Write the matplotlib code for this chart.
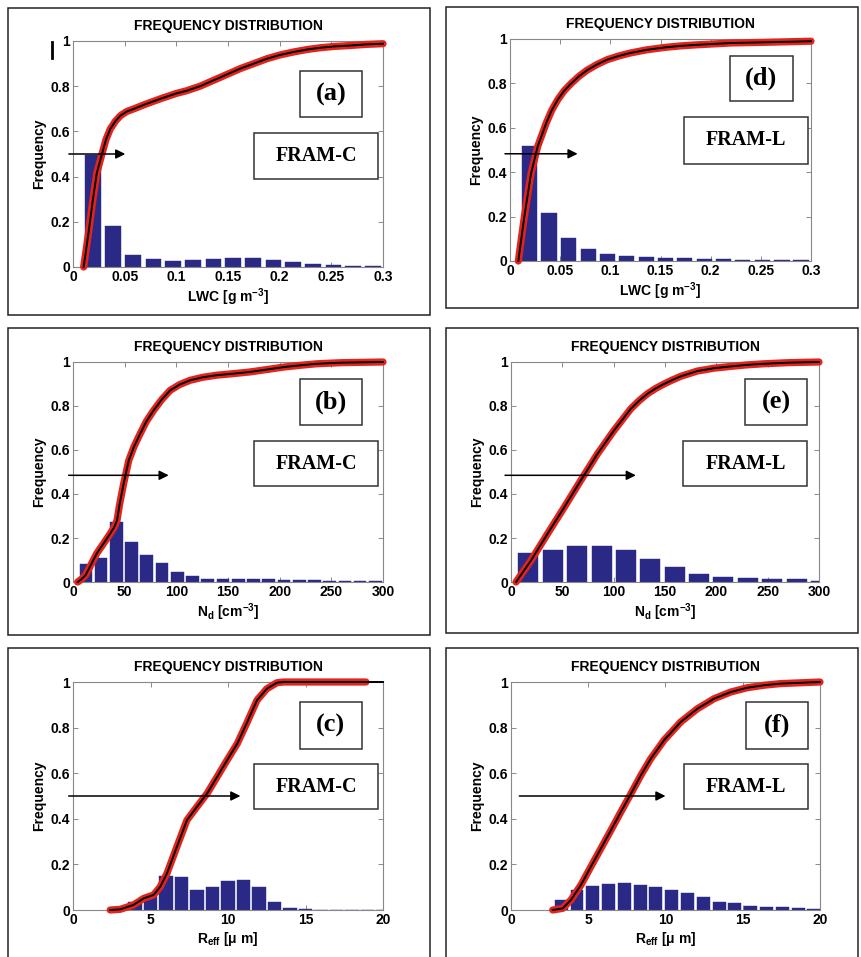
import numpy as np
import matplotlib
matplotlib.use('Agg')
import matplotlib.pyplot as plt
from matplotlib.patches import Rectangle
from matplotlib.lines import Line2D

plt.rcParams['font.family'] = ['Liberation Sans', 'DejaVu Sans']
plt.rcParams['mathtext.fontset'] = 'custom'
plt.rcParams['mathtext.rm'] = 'Liberation Sans:bold'
plt.rcParams['mathtext.it'] = 'Liberation Sans:bold'

# --- data ---
# (a) LWC, FRAM-C
lwc_c_bins = [0.0197, 0.039, 0.058, 0.078, 0.097, 0.116, 0.136, 0.155,
              0.174, 0.194, 0.213, 0.232, 0.252, 0.271, 0.290]
lwc_c_freq = [0.496, 0.18, 0.051, 0.035, 0.028, 0.029, 0.035, 0.04,
              0.04, 0.031, 0.021, 0.013, 0.009, 0.006, 0.005]
lwc_c_cdf_x = [0.0103, 0.015, 0.019, 0.023, 0.028, 0.032, 0.036, 0.041, 0.046, 0.052,
               0.059, 0.07, 0.085, 0.1, 0.11, 0.123, 0.136, 0.149, 0.162, 0.175, 0.188,
               0.2, 0.213, 0.226, 0.239, 0.253, 0.268, 0.284, 0.3]
lwc_c_cdf_y = [0.0, 0.15, 0.29, 0.415, 0.50, 0.565, 0.61, 0.645, 0.67, 0.688,
               0.70, 0.72, 0.745, 0.768, 0.78, 0.8, 0.826, 0.852, 0.878, 0.9, 0.922,
               0.938, 0.951, 0.962, 0.97, 0.976, 0.98, 0.985, 0.988]

# (d) LWC, FRAM-L
lwc_l_bins = lwc_c_bins
lwc_l_freq = [0.52, 0.218, 0.102, 0.056, 0.033, 0.024, 0.018, 0.015,
              0.012, 0.009, 0.0075, 0.006, 0.0045, 0.003, 0.003]
lwc_l_cdf_x = [0.0083, 0.0143, 0.021, 0.0276, 0.036, 0.0415, 0.0475, 0.054, 0.061,
               0.069, 0.077, 0.087, 0.097, 0.108, 0.12, 0.136, 0.154, 0.17, 0.187,
               0.22, 0.253, 0.3]
lwc_l_cdf_y = [0.0, 0.2, 0.395, 0.516, 0.62, 0.678, 0.726, 0.767, 0.80,
               0.833, 0.86, 0.886, 0.907, 0.923, 0.937, 0.951, 0.962, 0.969, 0.974,
               0.982, 0.985, 0.99]

# (b) Nd, FRAM-C
nd_c_bins = [12.4, 27.1, 41.9, 56.6, 71.4, 86.1, 100.9, 115.6, 130.4, 145.1,
             159.9, 174.6, 189.4, 204.1, 218.9, 233.6, 248.4, 263.1, 277.9, 292.6]
nd_c_freq = [0.083, 0.11, 0.273, 0.182, 0.121, 0.086, 0.045, 0.027, 0.015, 0.012,
             0.012, 0.013, 0.012, 0.011, 0.009, 0.008, 0.006, 0.005, 0.005, 0.003]
nd_c_cdf_x = [4.5, 8, 12, 17, 23, 30, 36, 40, 42.6, 45, 49, 54, 59, 65, 71, 78, 86,
              94, 103, 113.5, 125, 139, 155, 171.6, 188, 204, 220, 236, 260, 300]
nd_c_cdf_y = [0.0, 0.012, 0.03, 0.075, 0.13, 0.178, 0.22, 0.25, 0.28, 0.35, 0.447,
              0.553, 0.615, 0.674, 0.73, 0.78, 0.83, 0.871, 0.897, 0.917, 0.93, 0.94,
              0.947, 0.955, 0.966, 0.977, 0.985, 0.992, 0.997, 1.0]

# (e) Nd, FRAM-L
nd_l_bins = [16.9, 40.6, 64.4, 88.2, 111.9, 135.7, 159.4, 183.2, 206.9,
             230.7, 254.4, 278.2, 302.0]
nd_l_freq = [0.133, 0.147, 0.162, 0.162, 0.147, 0.105, 0.068, 0.038, 0.024,
             0.018, 0.014, 0.012, 0.006]
nd_l_cdf_x = [4.9, 19.5, 35.7, 51.9, 68, 84.3, 100.5, 116.8, 125, 133, 141, 149,
              157, 165.4, 181.6, 198, 214, 230, 246.5, 270, 300]
nd_l_cdf_y = [0.0, 0.098, 0.22, 0.34, 0.462, 0.583, 0.69, 0.788, 0.825, 0.856,
              0.88, 0.90, 0.918, 0.935, 0.959, 0.972, 0.98, 0.987, 0.992, 0.997, 1.0]

# (c) Reff, FRAM-C
reff_c_bins = [3, 4, 5, 6, 7, 8, 9, 10, 11, 12, 13, 14, 15, 16, 17, 18, 19, 20]
reff_c_freq = [0.01, 0.035, 0.06, 0.15, 0.146, 0.086, 0.103, 0.126, 0.131, 0.10,
               0.036, 0.007, 0.004, 0.002, 0.002, 0.002, 0.002, 0.002]
# last point only carries the thin black line (red stops at 18.9)
reff_c_cdf_x = [2.4, 3.05, 3.9, 4.56, 5.2, 5.63, 6.06, 6.7, 7.35, 8.0, 8.65, 9.3,
                9.94, 10.6, 11.2, 11.87, 12.5, 13.16, 13.6, 18.9, 20]
reff_c_cdf_y = [0.0, 0.003, 0.022, 0.051, 0.066, 0.102, 0.16, 0.277, 0.394, 0.453,
                0.511, 0.584, 0.657, 0.73, 0.818, 0.92, 0.97, 0.997, 1.0, 1.0, 1.0]

# (f) Reff, FRAM-L
reff_l_bins = [3.25, 4.27, 5.29, 6.32, 7.34, 8.36, 9.38, 10.40, 11.43, 12.45,
               13.47, 14.49, 15.51, 16.54, 17.56, 18.58, 19.60]
reff_l_freq = [0.043, 0.089, 0.107, 0.113, 0.117, 0.111, 0.103, 0.086, 0.074,
               0.056, 0.037, 0.029, 0.019, 0.014, 0.011, 0.007, 0.004]
reff_l_cdf_x = [2.7, 3.34, 3.88, 4.53, 5.17, 5.82, 6.47, 7.11, 7.76, 8.4, 9.05,
                9.91, 10.99, 12.07, 13.15, 14.22, 15.3, 16.4, 17.46, 20]
reff_l_cdf_y = [0.0, 0.007, 0.044, 0.11, 0.19, 0.27, 0.35, 0.43, 0.51, 0.59, 0.664,
                0.745, 0.825, 0.883, 0.927, 0.956, 0.975, 0.986, 0.993, 1.0]

y_ticks = [0, 0.2, 0.4, 0.6, 0.8, 1]
y_tick_labels = ['0', '0.2', '0.4', '0.6', '0.8', '1']
lwc_ticks = [0, 0.05, 0.1, 0.15, 0.2, 0.25, 0.3]
lwc_tick_labels = ['0', '0.05', '0.1', '0.15', '0.2', '0.25', '0.3']
nd_ticks = [0, 50, 100, 150, 200, 250, 300]
nd_tick_labels = ['0', '50', '100', '150', '200', '250', '300']
reff_ticks = [0, 5, 10, 15, 20]
reff_tick_labels = ['0', '5', '10', '15', '20']

# arrows: (x start, x end, y)
arrow_a = (-0.004, 0.0506, 0.50)
arrow_d = (-0.005, 0.0674, 0.483)
arrow_b = (-4.2, 92.6, 0.485)
arrow_e = (-5.8, 121.6, 0.485)
arrow_c = (-0.28, 10.8, 0.50)
arrow_f = (0.54, 10.0, 0.50)

BAR = '#2a2a86'
RED = '#e4231d'
W, H = 862, 957

fig = plt.figure(figsize=(W / 100, H / 100), dpi=100)


def px_rect(x0, y0, x1, y1):
    return [x0 / W, 1 - y1 / H, (x1 - x0) / W, (y1 - y0) / H]


def panel(frame, axrect, bins, freq, cx, cy, xlim, xticks, xlabels, xlabel,
          arrow, tag, tagbox, name, namebox, bw, red_upto=None):
    fx0, fy0, fx1, fy1 = frame
    fig.add_artist(Rectangle((fx0 / W, 1 - fy1 / H), (fx1 - fx0) / W, (fy1 - fy0) / H,
                             transform=fig.transFigure, fill=False, ec='#222222', lw=1.1))
    ax = fig.add_axes(px_rect(*axrect))
    step = bins[1] - bins[0]
    ax.bar(bins, freq, width=bw * step, color=BAR, edgecolor=BAR, lw=0.3, zorder=2)
    n = red_upto if red_upto else len(cx)
    ax.plot(cx[:n], cy[:n], color=RED, lw=5.2, solid_capstyle='round',
            solid_joinstyle='round', zorder=3, clip_on=False)
    ax.plot(cx, cy, color='k', lw=1.4, zorder=4, clip_on=False)
    ax.set_xlim(*xlim)
    ax.set_ylim(0, 1)
    ax.set_xticks(xticks)
    ax.set_xticklabels(xlabels)
    ax.set_yticks(y_ticks)
    ax.set_yticklabels(y_tick_labels)
    ax.tick_params(direction='in', top=True, right=True, length=3.5, width=0.6,
                   color='#777777', labelsize=10, pad=2)
    for lab in ax.get_xticklabels() + ax.get_yticklabels():
        lab.set_fontweight('bold')
    for s in ax.spines.values():
        s.set_color('#888888')
        s.set_linewidth(0.8)
    ax.set_title('FREQUENCY DISTRIBUTION', fontsize=10, fontweight='bold', pad=8)
    ax.set_ylabel('Frequency', fontsize=10, fontweight='bold', labelpad=3)
    ax.set_xlabel(xlabel, fontsize=10, fontweight='bold', labelpad=2)

    x0, x1, y = arrow
    ax.annotate('', xy=(x1, y), xytext=(x0, y),
                arrowprops=dict(arrowstyle='-|>', color='k', lw=1.1, mutation_scale=14,
                                shrinkA=0, shrinkB=0),
                annotation_clip=False, zorder=6)

    for txt, box, size in ((tag, tagbox, 19), (name, namebox, 14.5)):
        bx0, by0, bx1, by1 = box
        ax.add_patch(Rectangle((bx0, by0), bx1 - bx0, by1 - by0, transform=ax.transAxes,
                               fc='white', ec='#333333', lw=1.1, zorder=5))
        ax.text((bx0 + bx1) / 2, (by0 + by1) / 2, txt, transform=ax.transAxes,
                ha='center', va='center', fontsize=size, fontweight='bold',
                family='Liberation Serif', zorder=6)
    return ax


panel((8, 8, 430, 315), (73, 41, 383, 267), lwc_c_bins, lwc_c_freq, lwc_c_cdf_x, lwc_c_cdf_y,
      (0, 0.3), lwc_ticks, lwc_tick_labels, r'LWC [g m$^{-3}$]', arrow_a,
      '(a)', (0.731, 0.662, 0.932, 0.866), 'FRAM-C', (0.585, 0.388, 0.984, 0.591), 0.79)
panel((446, 7, 858, 308), (510, 39, 811, 261), lwc_l_bins, lwc_l_freq, lwc_l_cdf_x, lwc_l_cdf_y,
      (0, 0.3), lwc_ticks, lwc_tick_labels, r'LWC [g m$^{-3}$]', arrow_d,
      '(d)', (0.731, 0.719, 0.939, 0.925), 'FRAM-L', (0.577, 0.438, 0.989, 0.648), 0.79)
panel((8, 328, 430, 635), (73, 362, 383, 582), nd_c_bins, nd_c_freq, nd_c_cdf_x, nd_c_cdf_y,
      (0, 300), nd_ticks, nd_tick_labels, r'N$_\mathrm{d}$ [cm$^{-3}$]', arrow_b,
      '(b)', (0.731, 0.712, 0.932, 0.921), 'FRAM-C', (0.585, 0.435, 0.984, 0.641), 0.83)
panel((446, 328, 858, 633), (511, 362, 819, 582), nd_l_bins, nd_l_freq, nd_l_cdf_x, nd_l_cdf_y,
      (0, 300), nd_ticks, nd_tick_labels, r'N$_\mathrm{d}$ [cm$^{-3}$]', arrow_e,
      '(e)', (0.76, 0.712, 0.962, 0.921), 'FRAM-L', (0.56, 0.435, 0.962, 0.641), 0.82)
panel((8, 648, 430, 965), (73, 682, 383, 910), reff_c_bins, reff_c_freq, reff_c_cdf_x, reff_c_cdf_y,
      (0, 20), reff_ticks, reff_tick_labels, r'R$_\mathrm{eff}$ [μ m]', arrow_c,
      '(c)', (0.731, 0.708, 0.932, 0.912), 'FRAM-C', (0.585, 0.441, 0.984, 0.642), 0.9,
      red_upto=len(reff_c_cdf_x) - 1)
panel((446, 648, 858, 965), (511, 682, 820, 910), reff_l_bins, reff_l_freq, reff_l_cdf_x, reff_l_cdf_y,
      (0, 20), reff_ticks, reff_tick_labels, r'R$_\mathrm{eff}$ [μ m]', arrow_f,
      '(f)', (0.76, 0.708, 0.962, 0.912), 'FRAM-L', (0.56, 0.441, 0.962, 0.642), 0.82)

# stray tick mark left of panel (a)
fig.add_artist(Line2D([52 / W, 52 / W], [1 - 42 / H, 1 - 58 / H], lw=2, color='k'))

fig.savefig('out.png', dpi=100, facecolor='white')
